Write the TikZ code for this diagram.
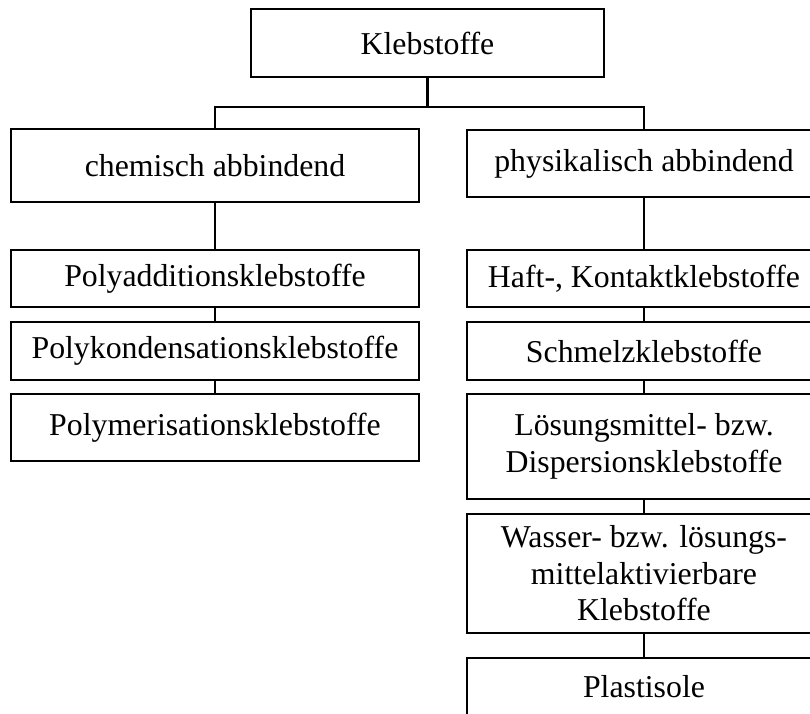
\documentclass[tikz,border=0pt]{standalone}
\usepackage{fontspec}
\setmainfont{Liberation Serif}
\usetikzlibrary{positioning}
\tikzstyle{block} = [rectangle, draw, line width=2.6pt, text centered, align=center, inner sep=0pt, outer sep=0pt, font=\fontsize{31.8}{36.6}\selectfont]
\tikzstyle{leftblock} = [block, minimum width=408pt, minimum height=57pt]
\tikzstyle{rightblock} = [block, minimum width=354pt, minimum height=57pt]
\tikzstyle{line} = [line width=2.6pt]

\begin{document}
\begin{tikzpicture}[x=1pt, y=-1pt, node distance=15pt]
    \useasboundingbox (0,0) rectangle (810,713);
    \clip (0,0) rectangle (810,713);
    % Place nodes
    \node [block, minimum width=353pt, minimum height=68pt] (kleb) at (427.5,43) {Klebstoffe};
    \node [leftblock, minimum height=73pt] (chem) at (215,165.5) {chemisch abbindend};
    \node [rightblock, minimum height=67pt] (phys) at (644,163.5) {physikalisch abbindend};

    \node [leftblock, below=48pt of chem] (polyadd) {Polyadditionsklebstoffe};
    \node [leftblock, below=15pt of polyadd, minimum height=58pt] (polykond) {Polykondensationsklebstoffe};
    \node [leftblock, below=14pt of polykond, minimum height=67pt] (polymer) {Polymerisationsklebstoffe};

    \node [rightblock, below=53pt of phys] (haft) {Haft-, Kontaktklebstoffe};
    \node [rightblock, below=15pt of haft, minimum height=58pt] (schmelz) {Schmelzklebstoffe};
    \node [rightblock, below=14pt of schmelz, minimum height=105pt] (loesung) {L\"osungsmittel- bzw.\\Dispersionsklebstoffe};
    \node [rightblock, below=15pt of loesung, minimum height=119pt] (wasser) {Wasser- bzw. l\"osungs-\\mittelaktivierbare\\Klebstoffe};
    \node [rightblock, below=25pt of wasser, minimum height=58pt] (plast) {Plastisole};

    % Draw connectors
    \coordinate (fork) at (427.5,107);
    \draw [line] (kleb) -- (fork);
    \draw [line] (chem.north) |- (fork) -| (phys.north);
    \draw [line] (chem) -- (polyadd);
    \draw [line] (polyadd) -- (polykond);
    \draw [line] (polykond) -- (polymer);
    \draw [line] (phys) -- (haft);
    \draw [line] (haft) -- (schmelz);
    \draw [line] (schmelz) -- (loesung);
    \draw [line] (loesung) -- (wasser);
    \draw [line] (wasser) -- (plast);
\end{tikzpicture}
\end{document}
